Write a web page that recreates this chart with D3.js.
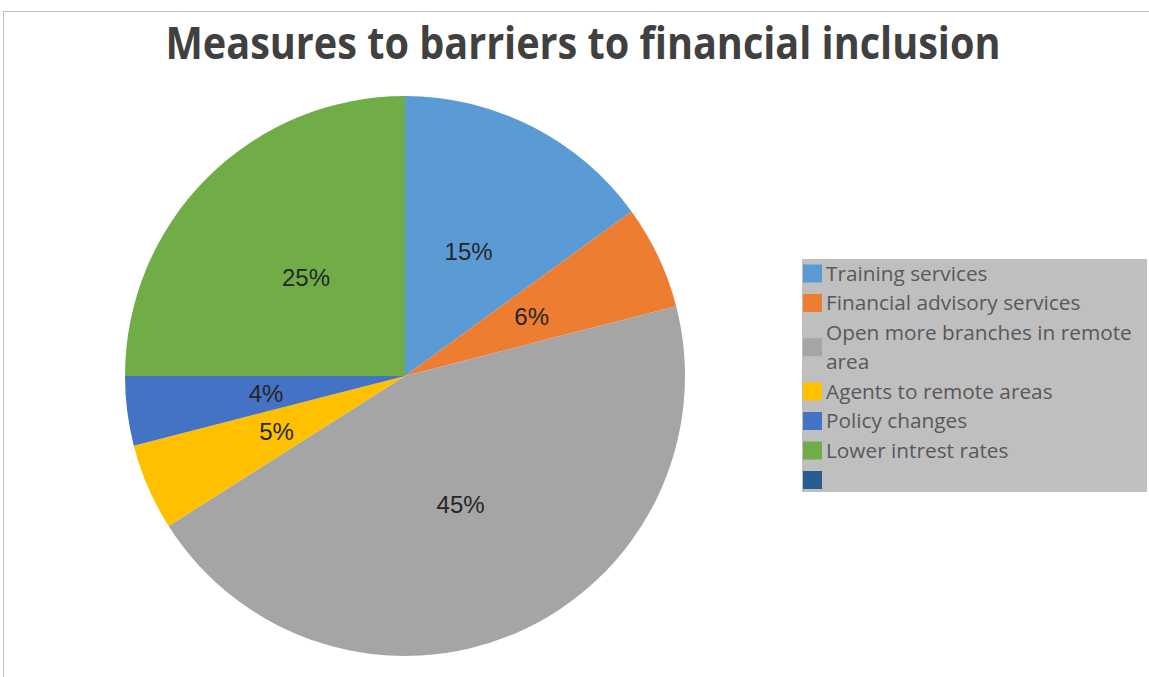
<!DOCTYPE html>
<html>
<head>
<meta charset="utf-8">
<script src="https://cdn.jsdelivr.net/npm/d3@7"></script>
<style>
  html, body { margin: 0; padding: 0; background: #ffffff; }
  svg { display: block; }
</style>
</head>
<body>
<svg id="chart" width="1149" height="677"></svg>
<script>
// Survey responses: measures to address barriers to financial inclusion
const categories = [
  "Training services",
  "Financial advisory services",
  "Open more branches in remote area",
  "Agents to remote areas",
  "Policy changes",
  "Lower intrest rates",
  ""
];
const shares = [15, 6, 45, 5, 4, 25, 0];
const colors = ["#5b9bd5", "#ed7d31", "#a5a5a5", "#ffc000", "#4472c4", "#70ad47", "#255e91"];
const chartTitle = "Measures to barriers to financial inclusion";

const svg = d3.select("#chart");
const W = 1149, H = 677;

// chart area frame (only top and left edges fall inside the view)
svg.append("rect")
  .attr("x", 3.5).attr("y", 11.5)
  .attr("width", W + 10).attr("height", H + 10)
  .attr("fill", "#ffffff")
  .attr("stroke", "#bfbfbf")
  .attr("stroke-width", 1);

// title
svg.append("text")
  .attr("x", 583).attr("y", 59)
  .attr("text-anchor", "middle")
  .attr("font-family", "'Open Sans', sans-serif")
  .attr("font-weight", 700)
  .attr("font-size", 44)
  .attr("textLength", 835)
  .attr("lengthAdjust", "spacingAndGlyphs")
  .attr("fill", "#404040")
  .text(chartTitle);

// pie
const cx = 405, cy = 376, R = 280;
const data = categories.map((c, i) => ({ name: c, value: shares[i], color: colors[i] }));
const pie = d3.pie().value(d => d.value).sort(null);
const arc = d3.arc().innerRadius(0).outerRadius(R);
const arcs = pie(data);

const g = svg.append("g").attr("transform", `translate(${cx},${cy})`);
g.selectAll("path.slice")
  .data(arcs.filter(a => a.data.value > 0))
  .join("path")
  .attr("class", "slice")
  .attr("d", arc)
  .attr("fill", d => d.data.color);

const total = d3.sum(shares);
const fmt = d3.format(".0%");
g.selectAll("text.pct")
  .data(arcs.filter(a => a.data.value > 0))
  .join("text")
  .attr("class", "pct")
  .attr("x", d => arc.centroid(d)[0])
  .attr("y", d => arc.centroid(d)[1])
  .attr("dy", "0.36em")
  .attr("text-anchor", "middle")
  .attr("font-family", "'Liberation Sans', Arial, sans-serif")
  .attr("font-size", 24)
  .attr("fill", "#262626")
  .text(d => fmt(d.data.value / total));

// legend
const legX = 802, legY = 259, legW = 345, legH = 233;
const leg = svg.append("g");
leg.append("rect")
  .attr("x", legX).attr("y", legY)
  .attr("width", legW).attr("height", legH)
  .attr("fill", "#bfbfbf");

const fontSize = 20.8;
const rowH = 29.5;
const wrapWidth = 318;
const measure = svg.append("text")
  .attr("font-family", "'Open Sans', sans-serif")
  .attr("font-size", fontSize)
  .attr("visibility", "hidden");

function wrapLines(str) {
  if (!str) return [""];
  const words = str.split(" ");
  const lines = [];
  let cur = "";
  for (const w of words) {
    const test = cur ? cur + " " + w : w;
    measure.text(test);
    if (measure.node().getComputedTextLength() > wrapWidth && cur) {
      lines.push(cur);
      cur = w;
    } else cur = test;
  }
  lines.push(cur);
  return lines;
}

let y = legY + 14.5;
data.forEach(d => {
  const lines = wrapLines(d.name);
  const blockH = lines.length * rowH;
  const mid = y - rowH / 2 + blockH / 2;
  leg.append("rect")
    .attr("x", 803).attr("y", mid - 9)
    .attr("width", 19).attr("height", 18)
    .attr("fill", d.color);
  const t = leg.append("text")
    .attr("font-family", "'Open Sans', sans-serif")
    .attr("font-size", fontSize)
    .attr("fill", "#595959");
  lines.forEach((ln, i) => {
    t.append("tspan")
      .attr("x", 826)
      .attr("y", y + i * rowH)
      .attr("dy", "0.35em")
      .text(ln);
  });
  y += blockH;
});
measure.remove();
</script>
</body>
</html>
